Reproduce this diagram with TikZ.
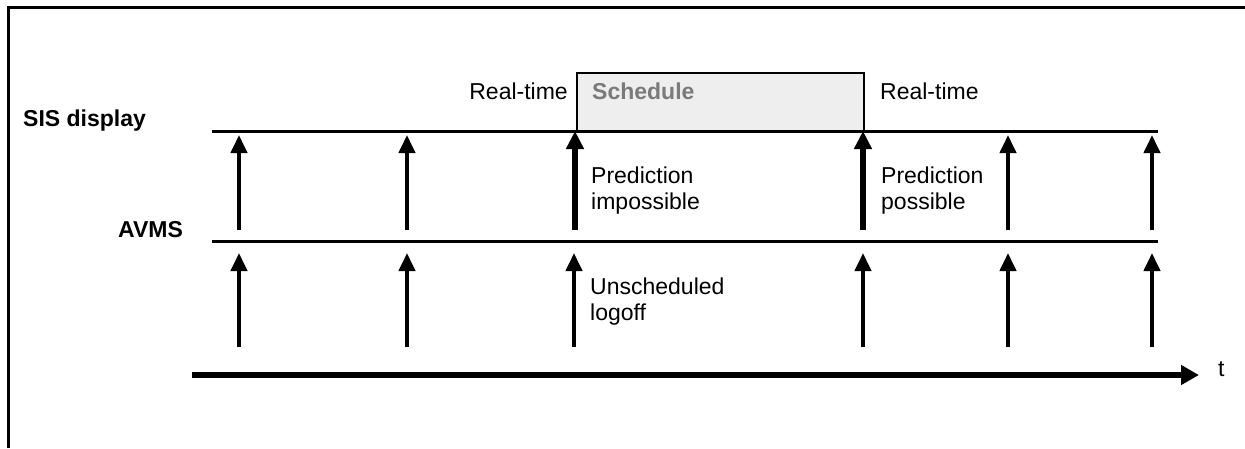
\documentclass[tikz,border=0pt]{standalone}
\usepackage{fontspec}
\setmainfont{Liberation Sans}
\usetikzlibrary{arrows.meta}
\definecolor{schedfill}{HTML}{EEEEEE}
\definecolor{schedtext}{HTML}{7A7A7A}
\tikzset{lbl/.style = {inner sep=0pt, font=\fontsize{23}{26}\selectfont},
           hd/.style = {inner sep=0pt, font=\fontsize{23}{26}\selectfont\bfseries},
           ln/.style = {line width=3pt},
           ar/.style = {line width=4pt, -{Triangle[width=16pt, length=18pt]}},
           tk/.style = {line width=5.5pt, -{Triangle[width=17pt, length=18pt]}},
           ax/.style = {line width=6.5pt, -{Triangle[width=19pt, length=18pt]}}}

\begin{document}
\begin{tikzpicture}[x=1pt, y=-1pt]
    \useasboundingbox (0,0) rectangle (1245,448);
    \draw[line width=3pt] (8,448) -- (8,7) -- (1245,7);
    % schedule period
    \draw[line width=2pt, fill=schedfill] (577,73) rectangle (864,131);
    \node[lbl, anchor=base east] (rt1) at (568,99) {Real-time};
    \node[hd, text=schedtext, anchor=base west] (sch) at (592,99) {Schedule};
    \node[lbl, anchor=base west] (rt2) at (880,99) {Real-time};
    % levels
    \node[hd, anchor=base west] (sis) at (23,126) {SIS display};
    \node[hd, anchor=base west] (avms) at (118,237) {AVMS};
    \coordinate (sisL) at (212,131); \coordinate (sisR) at (1158,131);
    \coordinate (avL) at (212,241);  \coordinate (avR) at (1158,241);
    \coordinate (axL) at (192,375);  \coordinate (axR) at (1199,375);
    \draw[ln] (sisL) -- (sisR);
    \draw[ln] (avL) -- (avR);
    \draw[ax] (axL) -- (axR);
    \node[lbl, anchor=base west] (t) at (1218,376) {t};
    % upper events
    \coordinate (p1b) at (239,230);  \coordinate (p1t) at (239,135);
    \coordinate (p2b) at (407,230);  \coordinate (p2t) at (407,135);
    \coordinate (p3b) at (575,230);  \coordinate (p3t) at (575,131);
    \coordinate (p4b) at (863,230);  \coordinate (p4t) at (863,131);
    \coordinate (p5b) at (1008,230); \coordinate (p5t) at (1008,135);
    \coordinate (p6b) at (1152,230); \coordinate (p6t) at (1152,135);
    \draw[ar] (p1b) -- (p1t);
    \draw[ar] (p2b) -- (p2t);
    \draw[tk] (p3b) -- (p3t);
    \draw[tk] (p4b) -- (p4t);
    \draw[ar] (p5b) -- (p5t);
    \draw[ar] (p6b) -- (p6t);
    % lower events
    \coordinate (q1b) at (239,347);  \coordinate (q1t) at (239,253);
    \coordinate (q2b) at (407,347);  \coordinate (q2t) at (407,253);
    \coordinate (q3b) at (574,347);  \coordinate (q3t) at (574,253);
    \coordinate (q4b) at (863,347);  \coordinate (q4t) at (863,253);
    \coordinate (q5b) at (1008,347); \coordinate (q5t) at (1008,253);
    \coordinate (q6b) at (1152,347); \coordinate (q6t) at (1152,253);
    \draw[ar] (q1b) -- (q1t);
    \draw[ar] (q2b) -- (q2t);
    \draw[ar] (q3b) -- (q3t);
    \draw[ar] (q4b) -- (q4t);
    \draw[ar] (q5b) -- (q5t);
    \draw[ar] (q6b) -- (q6t);
    % notes
    \node[lbl, align=left, anchor=base west] (pimp) at (591,209) {Prediction\\impossible};
    \node[lbl, align=left, anchor=base west] (ppos) at (881,209) {Prediction\\possible};
    \node[lbl, align=left, anchor=base west] (unl) at (590,320) {Unscheduled\\logoff};
\end{tikzpicture}
\end{document}
